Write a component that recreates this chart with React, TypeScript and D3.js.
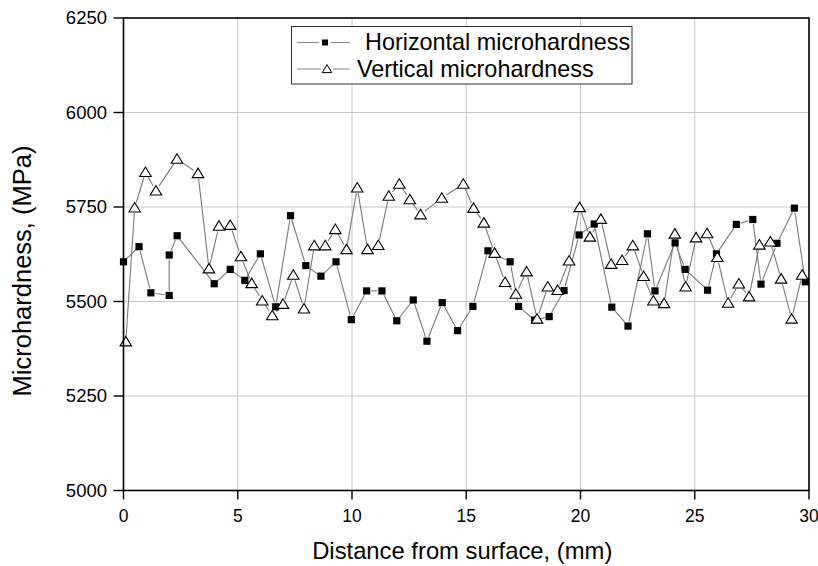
import { useEffect, useRef } from "react";
import * as d3 from "d3";

// horizontal microhardness (squares)
const horizX = [0, 0.68, 1.2, 2.0, 2.0, 2.35, 3.97, 4.67, 5.31, 5.99, 6.66, 7.31, 7.98, 8.64, 9.3, 9.97, 10.64, 11.31, 11.96, 12.68, 13.28, 13.95, 14.62, 15.29, 15.95, 16.92, 17.29, 17.99, 18.63, 19.28, 19.94, 20.6, 21.37, 22.08, 22.93, 23.26, 24.14, 24.58, 25.56, 25.95, 26.82, 27.54, 27.9, 28.6, 29.36, 29.84];
const horizY = [5605, 5645, 5523, 5516, 5623, 5674, 5547, 5585, 5556, 5626, 5486, 5727, 5595, 5567, 5605, 5452, 5528, 5528, 5449, 5504, 5395, 5497, 5423, 5487, 5634, 5605, 5487, 5451, 5460, 5529, 5676, 5705, 5485, 5435, 5679, 5528, 5655, 5585, 5530, 5626, 5704, 5717, 5546, 5654, 5747, 5552];

// vertical microhardness (triangles)
const vertX = [0.1, 0.49, 0.96, 1.42, 2.34, 3.26, 3.74, 4.18, 4.67, 5.14, 5.61, 6.07, 6.51, 6.98, 7.43, 7.9, 8.35, 8.83, 9.27, 9.76, 10.23, 10.68, 11.15, 11.61, 12.07, 12.53, 13.0, 13.93, 14.87, 15.32, 15.77, 16.24, 16.7, 17.17, 17.64, 18.1, 18.57, 19.0, 19.5, 19.96, 20.41, 20.89, 21.34, 21.82, 22.29, 22.76, 23.19, 23.66, 24.13, 24.6, 25.06, 25.54, 25.99, 26.46, 26.93, 27.38, 27.83, 28.31, 28.78, 29.24, 29.7];
const vertY = [5394, 5748, 5842, 5793, 5877, 5839, 5587, 5700, 5702, 5619, 5548, 5502, 5463, 5493, 5570, 5481, 5648, 5648, 5691, 5638, 5801, 5638, 5649, 5779, 5811, 5770, 5730, 5774, 5811, 5747, 5708, 5628, 5551, 5520, 5579, 5454, 5539, 5530, 5608, 5749, 5671, 5718, 5599, 5609, 5648, 5567, 5502, 5495, 5679, 5539, 5669, 5680, 5617, 5496, 5547, 5513, 5650, 5658, 5560, 5454, 5570];

const xTicks = [0, 5, 10, 15, 20, 25, 30];
const yTicks = [5000, 5250, 5500, 5750, 6000, 6250];
const legendLabels = ["Horizontal microhardness", "Vertical microhardness"];

const FONT = "'Liberation Sans', Arial, sans-serif";
const W = 818;
const H = 566;
const M = { left: 123.5, right: 809, top: 18, bottom: 490.5 };

const triPath = (cx, cy, w, h) =>
  `M${cx},${cy - h * 0.55} L${cx + w / 2},${cy + h * 0.45} L${cx - w / 2},${cy + h * 0.45} Z`;

// segments shortened at both ends, like Origin's gapped lines
const gappedSegments = (pts, gap) => {
  const segs = [];
  for (let i = 0; i < pts.length - 1; i++) {
    const [x1, y1] = pts[i];
    const [x2, y2] = pts[i + 1];
    const len = Math.hypot(x2 - x1, y2 - y1);
    if (len <= gap * 2 + 1) continue;
    const ux = (x2 - x1) / len;
    const uy = (y2 - y1) / len;
    segs.push([x1 + ux * gap, y1 + uy * gap, x2 - ux * gap, y2 - uy * gap]);
  }
  return segs;
};

export default function App() {
  const ref = useRef(null);

  useEffect(() => {
    const svg = d3.select(ref.current);
    svg.selectAll("*").remove();

    const x = d3.scaleLinear().domain([0, 30]).range([M.left, M.right]);
    const y = d3.scaleLinear().domain([5000, 6250]).range([M.bottom, M.top]);

    // grid
    svg
      .append("g")
      .selectAll("line")
      .data(xTicks.slice(1, -1))
      .join("line")
      .attr("x1", (d) => x(d))
      .attr("x2", (d) => x(d))
      .attr("y1", M.top)
      .attr("y2", M.bottom)
      .attr("stroke", "#c8c8c8")
      .attr("stroke-width", 1);
    svg
      .append("g")
      .selectAll("line")
      .data(yTicks.slice(1, -1))
      .join("line")
      .attr("x1", M.left)
      .attr("x2", M.right)
      .attr("y1", (d) => y(d))
      .attr("y2", (d) => y(d))
      .attr("stroke", "#c8c8c8")
      .attr("stroke-width", 1);

    // series lines
    const hPts = horizX.map((d, i) => [x(d), y(horizY[i])]);
    const vPts = vertX.map((d, i) => [x(d), y(vertY[i])]);
    const drawSegs = (segs) =>
      svg
        .append("g")
        .selectAll("line")
        .data(segs)
        .join("line")
        .attr("x1", (s) => s[0])
        .attr("y1", (s) => s[1])
        .attr("x2", (s) => s[2])
        .attr("y2", (s) => s[3])
        .attr("stroke", "#7a7a7a")
        .attr("stroke-width", 1.1);
    drawSegs(gappedSegments(hPts, 4.5));
    drawSegs(gappedSegments(vPts, 5.5));

    // markers
    svg
      .append("g")
      .selectAll("rect")
      .data(hPts)
      .join("rect")
      .attr("x", (p) => p[0] - 3.6)
      .attr("y", (p) => p[1] - 3.6)
      .attr("width", 7.2)
      .attr("height", 7.2)
      .attr("fill", "#000");
    svg
      .append("g")
      .selectAll("path")
      .data(vPts)
      .join("path")
      .attr("d", (p) => triPath(p[0], p[1], 11.5, 9.5))
      .attr("fill", "#fff")
      .attr("stroke", "#000")
      .attr("stroke-width", 1.1);

    // frame
    svg
      .append("rect")
      .attr("x", M.left)
      .attr("y", M.top)
      .attr("width", M.right - M.left)
      .attr("height", M.bottom - M.top)
      .attr("fill", "none")
      .attr("stroke", "#000")
      .attr("stroke-width", 1.6);

    // ticks
    svg
      .append("g")
      .selectAll("line")
      .data(xTicks)
      .join("line")
      .attr("x1", (d) => x(d))
      .attr("x2", (d) => x(d))
      .attr("y1", M.bottom)
      .attr("y2", M.bottom + 9)
      .attr("stroke", "#000")
      .attr("stroke-width", 1.4);
    svg
      .append("g")
      .selectAll("text")
      .data(xTicks)
      .join("text")
      .attr("x", (d) => x(d))
      .attr("y", 522)
      .attr("text-anchor", "middle")
      .attr("font-family", FONT)
      .attr("font-size", 17.5)
      .attr("fill", "#000")
      .text((d) => d);

    svg
      .append("g")
      .selectAll("line")
      .data(yTicks)
      .join("line")
      .attr("x1", M.left - 10)
      .attr("x2", M.left)
      .attr("y1", (d) => y(d))
      .attr("y2", (d) => y(d))
      .attr("stroke", "#000")
      .attr("stroke-width", 1.4);
    svg
      .append("g")
      .selectAll("text")
      .data(yTicks)
      .join("text")
      .attr("x", 107)
      .attr("y", (d) => y(d))
      .attr("dy", "0.35em")
      .attr("text-anchor", "end")
      .attr("font-family", FONT)
      .attr("font-size", 18.5)
      .attr("fill", "#000")
      .text((d) => d);

    // axis titles
    svg
      .append("text")
      .attr("x", (M.left + M.right) / 2 - 4)
      .attr("y", 559)
      .attr("text-anchor", "middle")
      .attr("font-family", FONT)
      .attr("font-size", 23.8)
      .attr("fill", "#000")
      .text("Distance from surface, (mm)");
    svg
      .append("text")
      .attr("transform", "translate(31,271) rotate(-90)")
      .attr("text-anchor", "middle")
      .attr("font-family", FONT)
      .attr("font-size", 25.5)
      .attr("fill", "#000")
      .text("Microhardness, (MPa)");

    // legend
    const lg = svg.append("g");
    lg.append("rect")
      .attr("x", 291.5)
      .attr("y", 26.5)
      .attr("width", 340.5)
      .attr("height", 57.5)
      .attr("fill", "#fff")
      .attr("stroke", "#333")
      .attr("stroke-width", 1);
    const rows = [42.5, 69];
    rows.forEach((ry, i) => {
      const cx = i === 0 ? 325 : 327;
      lg.append("line").attr("x1", 297).attr("x2", cx - 6).attr("y1", ry).attr("y2", ry).attr("stroke", "#8a8a8a").attr("stroke-width", 1.1);
      lg.append("line").attr("x1", cx + 6).attr("x2", 350).attr("y1", ry).attr("y2", ry).attr("stroke", "#8a8a8a").attr("stroke-width", 1.1);
      if (i === 0) {
        lg.append("rect").attr("x", cx - 3).attr("y", ry - 3).attr("width", 6).attr("height", 6).attr("fill", "#000");
      } else {
        lg.append("path").attr("d", triPath(cx, ry, 9.5, 8)).attr("fill", "#fff").attr("stroke", "#000").attr("stroke-width", 1);
      }
      lg.append("text")
        .attr("x", i === 0 ? 365 : 357)
        .attr("y", ry + 7.5)
        .attr("font-family", FONT)
        .attr("font-size", 23.4)
        .attr("fill", "#000")
        .text(legendLabels[i]);
    });
  }, []);

  return (
    <svg
      ref={ref}
      width={W}
      height={H}
      style={{ position: "absolute", left: 0, top: 0, background: "#fff" }}
    />
  );
}
